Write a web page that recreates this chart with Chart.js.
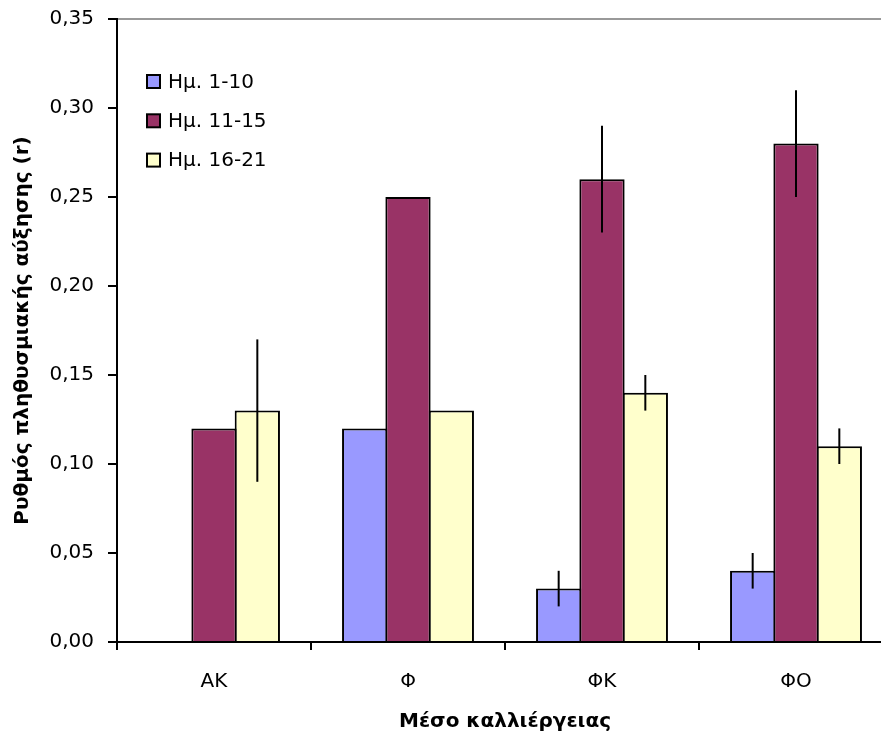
<!DOCTYPE html>
<html>
<head>
<meta charset="utf-8">
<script src="https://cdn.jsdelivr.net/npm/chart.js@4.4.1/dist/chart.umd.min.js"></script>
<style>
  html, body { margin: 0; padding: 0; background: #fff; overflow: hidden; }
  #wrap { width: 900px; height: 742px; }
</style>
</head>
<body>
<div id="wrap"><canvas id="c" width="900" height="742"></canvas></div>
<script>
// ---- data ----
const categories = ['ΑΚ', 'Φ', 'ΦΚ', 'ΦΟ'];
const seriesLabels = ['Ημ. 1-10', 'Ημ. 11-15', 'Ημ. 16-21'];
const days1_10  = [0.00, 0.12, 0.03, 0.04];
const err1_10   = [0.00, 0.00, 0.01, 0.01];
const days11_15 = [0.12, 0.25, 0.26, 0.28];
const err11_15  = [0.00, 0.00, 0.03, 0.03];
const days16_21 = [0.13, 0.13, 0.14, 0.11];
const err16_21  = [0.04, 0.00, 0.01, 0.01];
const yTicks = [0.00, 0.05, 0.10, 0.15, 0.20, 0.25, 0.30, 0.35];

const FONT = 'DejaVu Sans';
const colors = ['#9999FF', '#993366', '#FFFFCC'];

const errorBars = {
  id: 'errorBars',
  afterDatasetsDraw(chart) {
    const ctx = chart.ctx;
    const y = chart.scales.y;
    ctx.save();
    ctx.strokeStyle = '#000';
    ctx.lineWidth = 2;
    chart.data.datasets.forEach((ds, i) => {
      const meta = chart.getDatasetMeta(i);
      meta.data.forEach((el, j) => {
        const e = ds.errors[j];
        if (!e) return;
        const v = ds.data[j];
        ctx.beginPath();
        ctx.moveTo(el.x, y.getPixelForValue(v + e));
        ctx.lineTo(el.x, y.getPixelForValue(v - e));
        ctx.stroke();
      });
    });
    ctx.restore();
  }
};

const frame = {
  id: 'frame',
  afterDraw(chart) {
    const ctx = chart.ctx;
    const a = chart.chartArea;
    ctx.save();
    ctx.strokeStyle = '#999999';
    ctx.lineWidth = 2;
    ctx.beginPath();
    ctx.moveTo(a.left + 1, a.top);
    ctx.lineTo(a.right, a.top);
    ctx.stroke();
    // legend
    ctx.font = '20px "' + FONT + '"';
    ctx.textBaseline = 'middle';
    ctx.textAlign = 'left';
    chart.data.datasets.forEach((ds, i) => {
      const cy = 81.5 + i * 39.3;
      const bx = a.left + 30;
      ctx.fillStyle = ds.backgroundColor;
      ctx.fillRect(bx, cy - 6.5, 13, 13);
      ctx.strokeStyle = '#000';
      ctx.lineWidth = 2;
      ctx.strokeRect(bx, cy - 6.5, 13, 13);
      ctx.fillStyle = '#000';
      ctx.fillText(ds.label, bx + 21, cy + 1);
    });
    ctx.restore();
  }
};

const mk = (i, data, errs) => ({
  label: seriesLabels[i],
  data: data,
  errors: errs,
  backgroundColor: colors[i],
  borderColor: '#000',
  borderWidth: 2,
  borderSkipped: 'bottom',
  categoryPercentage: 0.67,
  barPercentage: 1.045
});

new Chart(document.getElementById('c'), {
  type: 'bar',
  data: {
    labels: categories,
    datasets: [
      mk(0, days1_10, err1_10),
      mk(1, days11_15, err11_15),
      mk(2, days16_21, err16_21)
    ]
  },
  options: {
    responsive: false,
    animation: false,
    devicePixelRatio: 1,
    layout: { padding: { top: 19, right: 7, left: 0, bottom: 0 } },
    plugins: { legend: { display: false }, tooltip: { enabled: false } },
    scales: {
      x: {
        afterFit(s) { s.height = 100; s.paddingLeft = 0; s.paddingRight = 0; },
        grid: { display: true, drawOnChartArea: false, drawTicks: true, tickLength: 8, color: '#000', lineWidth: 2, offset: true },
        border: { display: true, color: '#000', width: 2 },
        ticks: { color: '#000', font: { family: FONT, size: 20 }, padding: 20 },
        title: { display: true, text: 'Μέσο καλλιέργειας', color: '#000', font: { family: FONT, size: 20, weight: 'bold' }, padding: { top: 0, bottom: 8 } }
      },
      y: {
        min: 0, max: 0.35,
        afterFit(s) { s.width = 117; s.paddingTop = 0; s.paddingBottom = 0; },
        afterBuildTicks(s) { s.ticks = yTicks.map(v => ({ value: v })); },
        grid: { display: true, drawOnChartArea: false, drawTicks: true, tickLength: 9, color: '#000', lineWidth: 2 },
        border: { display: true, color: '#000', width: 2 },
        ticks: { color: '#000', font: { family: FONT, size: 20 }, padding: 14,
                 callback: v => v.toFixed(2).replace('.', ',') },
        title: { display: true, text: 'Ρυθμός πληθυσμιακής αύξησης (r)', color: '#000', font: { family: FONT, size: 20, weight: 'bold' }, padding: { top: 11, bottom: 0 } }
      }
    }
  },
  plugins: [errorBars, frame]
});
</script>
</body>
</html>
